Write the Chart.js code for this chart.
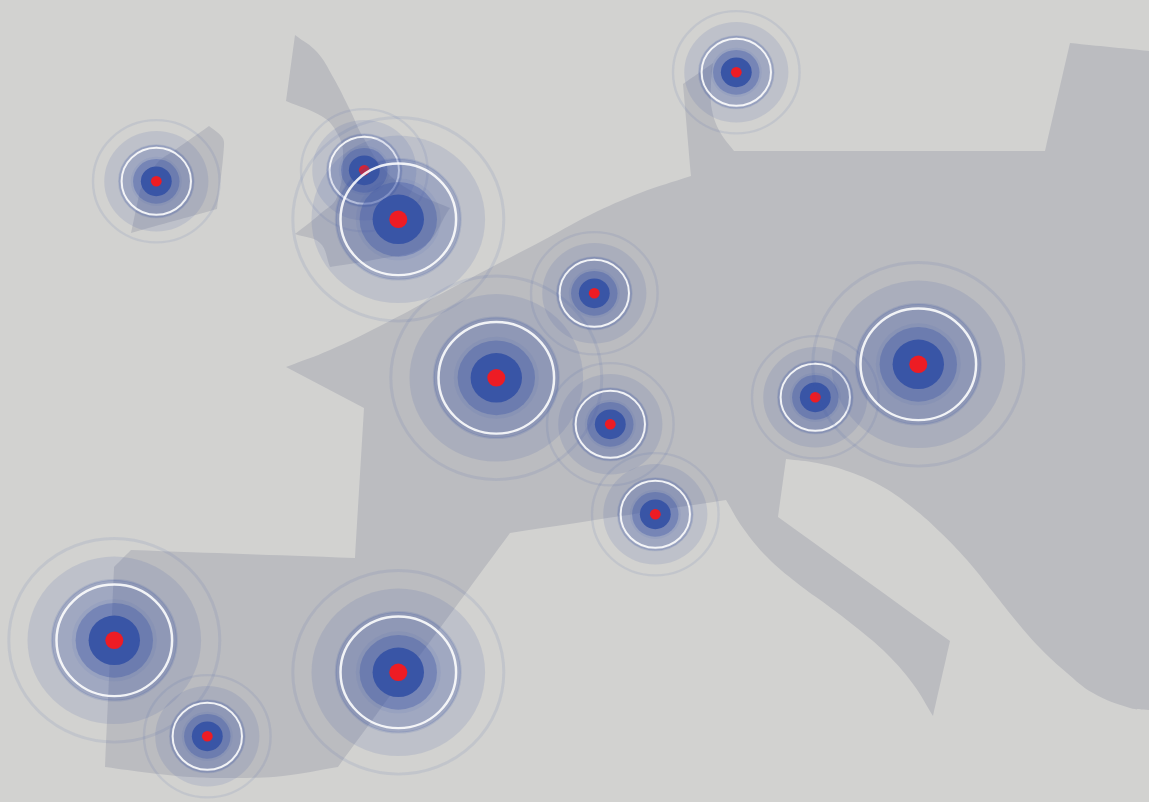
<!DOCTYPE html>
<html>
<head>
  <meta charset="UTF-8" />
  <title>Map rings</title>
  <script src="https://cdn.jsdelivr.net/npm/chart.js"></script>
  <style>
    html, body { margin: 0; padding: 0; background: #d2d2d0; overflow: hidden; }
    #wrap { width: 1149px; height: 802px; overflow: hidden; }
    canvas { display: block; }
  </style>
</head>
<body>
  <div id="wrap"><canvas id="map" width="1149" height="831"></canvas></div>

  <script>
    // land outlines, in picture units. A point given twice is a sharp corner, the rest is curve
    const mainlandX = [286,286,330,380,435,490,540,590,640,691,691,683,683,713,713,711,712,720,734,734,1045,1045,1070,1070,1149,1149,1149,1149,1130,1093,1067,1040,1017,993,967,940,913,883,850,817,786,786,778,778,950,950,933,933,913,887,857,827,797,767,743,726,726,510,510,338,338,283,233,190,150,105,105,114,114,131,131,355,355,364,364];
    const mainlandY = [367,367,350,326,297,268,242,215,193,176,176,84,84,63,63,85,110,132,151,151,151,151,43,43,51,51,710,710,708,693,673,648,622,592,560,532,508,487,472,463,459,459,517,517,641,641,716,716,684,654,628,605,583,557,528,500,500,533,533,767,767,776,778,777,773,767,767,567,567,550,550,558,558,408,408];
    const britainX = [295,295,317,333,350,363,385,410,450,450,423,373,330,330,320,295,295,320,337,343,337,323,286,286];
    const britainY = [35,35,52,77,110,137,170,190,208,208,247,260,267,267,243,234,234,214,197,153,133,117,101,101];
    const irelandX = [131,131,217,217,224,222,209,209,175,157,140];
    const irelandY = [233,233,209,209,146,137,126,126,150,163,190];

    // sites, in drawing order
    const siteX = [156.3,364.3,398.3,736.3,594.3,496.3,610.3,655.3,815.3,918.3,114.3,398.3,207.3];
    const siteY = [181.3,170.3,219.3,72.3,293.3,377.8,424.3,514.3,397.3,364.3,640.3,672.3,736.3];
    const siteSize = [0.6,0.6,1,0.6,0.6,1,0.6,0.6,0.6,1,1,1,0.6];

    // rings of one full size site, outermost first
    const ringRadius = [105.5,86.8,62.5,57.8,42.5,38.7,25.7,9];
    const ringFill = ['rgba(0,0,0,0)','rgba(58,84,165,.13)','rgba(58,84,165,.23)','rgba(0,0,0,0)','rgba(58,84,165,.07)','rgba(58,84,165,.36)','#3955a6','#ed1c24'];
    const ringStroke = ['rgba(58,84,165,.1)','','rgba(58,84,165,.14)','rgba(255,255,255,.88)','','','',''];
    const ringWidth = [3,0,2,2.5,0,0,0,0];

    const stretchY = 802 / 831; // the rings are a bit wider than tall

    function landDataset(xs, ys) {
      return {
        type: 'scatter',
        showLine: true,
        data: xs.map((x, i) => ({ x: x, y: ys[i] })),
        backgroundColor: '#bbbcc0',
        borderWidth: 0,
        pointRadius: 0,
        fill: 'shape',
        tension: 0.4,
        clip: false
      };
    }

    const datasets = [landDataset(mainlandX, mainlandY), landDataset(britainX, britainY), landDataset(irelandX, irelandY)];

    siteX.forEach((x, s) => {
      ringRadius.forEach((r, k) => {
        datasets.push({
          type: 'bubble',
          data: [{ x: x, y: siteY[s], r: r * siteSize[s] }],
          backgroundColor: ringFill[k],
          borderColor: ringStroke[k] || 'rgba(0,0,0,0)',
          borderWidth: ringWidth[k] * (siteSize[s] < 1 ? 0.8 : 1),
          clip: false
        });
      });
    });

    // Chart.js paints the first dataset last
    datasets.reverse();

    const squash = {
      id: 'squash',
      beforeDatasetsDraw(chart) {
        chart.ctx.save();
        chart.ctx.scale(1, stretchY);
      },
      afterDatasetsDraw(chart) {
        chart.ctx.restore();
      }
    };

    new Chart(document.getElementById('map'), {
      data: { datasets: datasets },
      plugins: [squash],
      options: {
        responsive: false,
        animation: false,
        events: [],
        layout: { padding: 0, autoPadding: false },
        plugins: { legend: { display: false }, tooltip: { enabled: false } },
        scales: {
          x: { type: 'linear', display: false, min: 0, max: 1149 },
          y: { type: 'linear', display: false, min: 0, max: 802, reverse: true }
        }
      }
    });
  </script>
</body>
</html>
